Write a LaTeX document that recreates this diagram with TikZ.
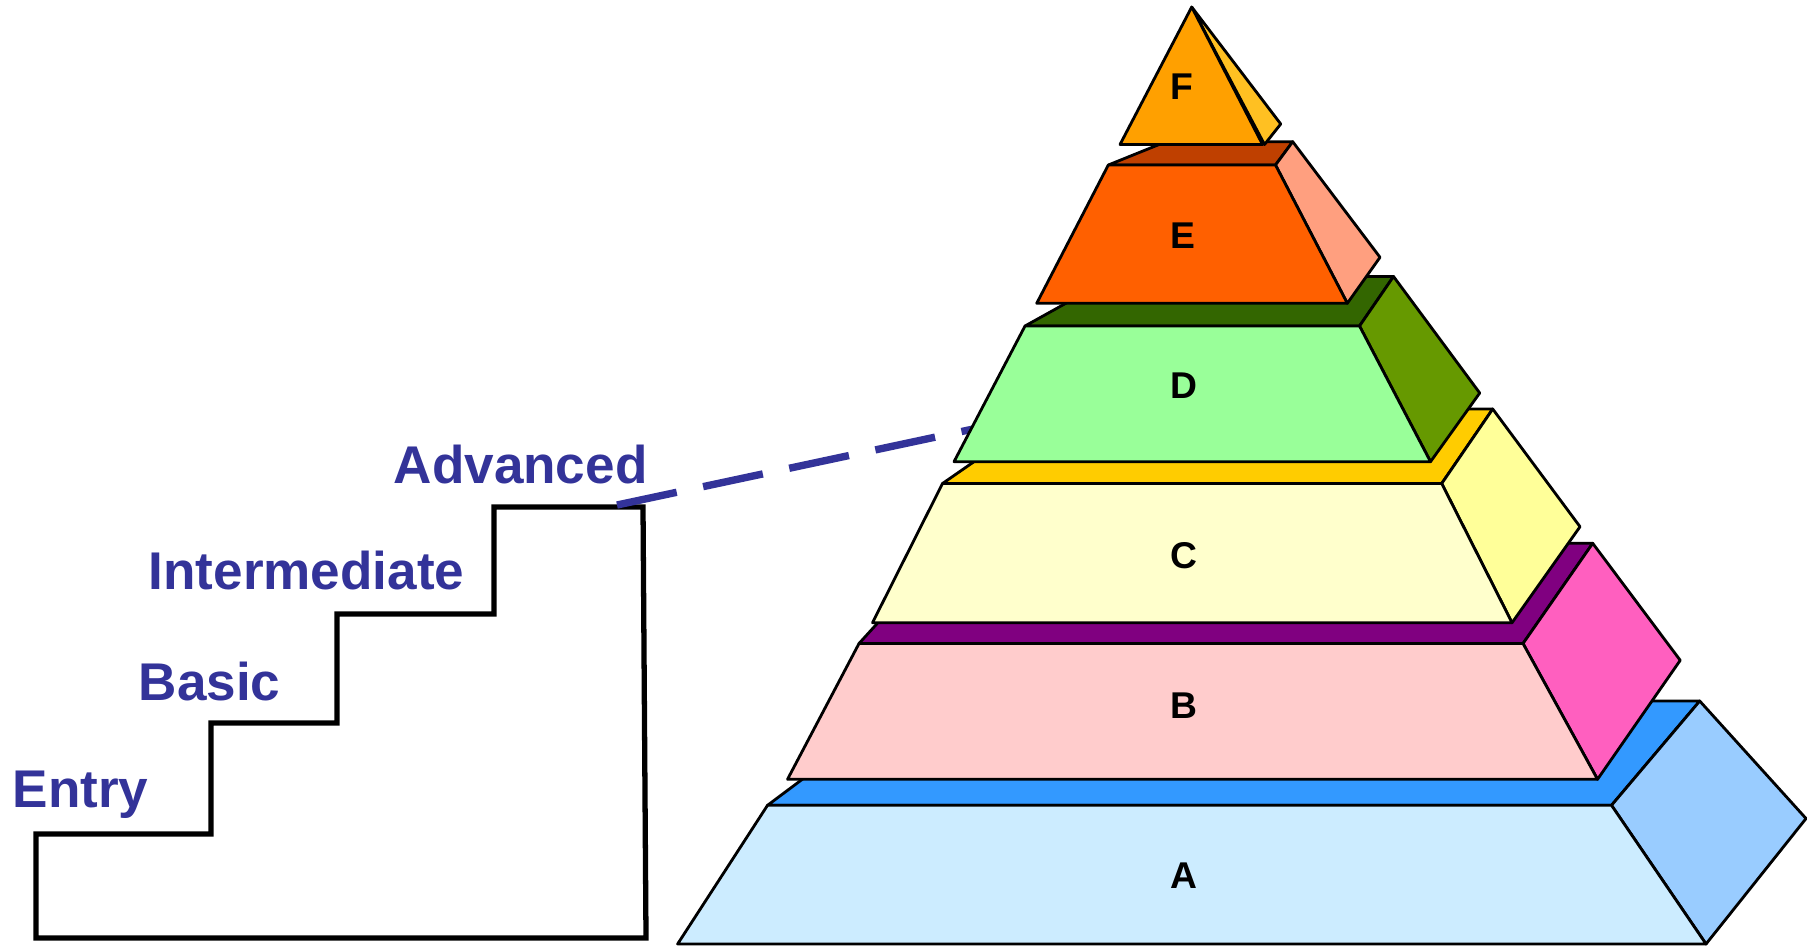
\documentclass[tikz,border=0pt]{standalone}
\usepackage{fontspec}
\setmainfont{Liberation Sans}
\usepackage{xcolor}
\definecolor{stairblue}{HTML}{333399}
\definecolor{afront}{HTML}{CCECFF}
\definecolor{atop}{HTML}{3399FF}
\definecolor{aside}{HTML}{99CCFF}
\definecolor{bfront}{HTML}{FFCCCC}
\definecolor{btop}{HTML}{800080}
\definecolor{bside}{HTML}{FF5FBF}
\definecolor{cfront}{HTML}{FFFFCC}
\definecolor{ctop}{HTML}{FFCC00}
\definecolor{cside}{HTML}{FFFF99}
\definecolor{dfront}{HTML}{99FF99}
\definecolor{dtop}{HTML}{336600}
\definecolor{dside}{HTML}{669900}
\definecolor{efront}{HTML}{FF6000}
\definecolor{etop}{HTML}{BF4000}
\definecolor{eside}{HTML}{FF9F7F}
\definecolor{ffront}{HTML}{FFA000}
\definecolor{fside}{HTML}{FFC022}

\begin{document}
\begin{tikzpicture}[x=0.01cm,y=-0.01cm,
  face/.style={draw=black,line width=0.8pt,line join=round},
  stair/.style={draw=black,line width=1.5pt},
  level/.style={font=\fontsize{15.1pt}{18pt}\selectfont\bfseries,text=stairblue,
    anchor=base west,inner sep=0pt},
  tag/.style={font=\fontsize{10.6pt}{12pt}\selectfont\bfseries,inner sep=0pt},
  link/.style={draw=stairblue,line width=2.1pt,dash pattern=on 0.61cm off 0.27cm}]
 \useasboundingbox (0,0) rectangle (1807,945);

 % staircase
 \draw[stair] (36,938) -- (36,834) -- (211,834) -- (211,723) -- (337,723)
   -- (337,614) -- (494,614) -- (494,507) -- (643,507) -- (646,938) -- cycle;
 \node[level] (entry) at (12,807) {Entry};
 \node[level] (basic) at (138,700) {Basic};
 \node[level] (inter) at (148,589) {Intermediate};
 \node[level] (adv) at (393,483) {Advanced};

 \coordinate (stairtop) at (617,505);
 \coordinate (dedge) at (978,428);
 \draw[link] (stairtop) -- (dedge);

 % pyramid, bottom layer first
 \filldraw[face,fill=atop] (767.5,805.3) -- (907,701) -- (1699.7,701) -- (1611.5,805.3) -- cycle;
 \filldraw[face,fill=aside] (1611.5,805.3) -- (1699.7,701) -- (1806,818.5) -- (1706,944) -- cycle;
 \filldraw[face,fill=afront] (767.5,805.3) -- (1611.5,805.3) -- (1706,944) -- (677.6,944) -- cycle;

 \filldraw[face,fill=btop] (859,643.5) -- (950,543.3) -- (1592.7,543.3) -- (1523,643.5) -- cycle;
 \filldraw[face,fill=bside] (1523,643.5) -- (1592.7,543.3) -- (1680.2,660.3) -- (1597.5,779.3) -- cycle;
 \filldraw[face,fill=bfront] (859,643.5) -- (1523,643.5) -- (1597.5,779.3) -- (787.5,779.3) -- cycle;

 \filldraw[face,fill=ctop] (942.5,483.5) -- (1050,409) -- (1492.7,409) -- (1441.7,483.5) -- cycle;
 \filldraw[face,fill=cside] (1441.7,483.5) -- (1492.7,409) -- (1580,526.7) -- (1512,622.7) -- cycle;
 \filldraw[face,fill=cfront] (942.5,483.5) -- (1441.7,483.5) -- (1512,622.7) -- (872.5,622.7) -- cycle;

 \filldraw[face,fill=dtop] (1025,326) -- (1114,276.5) -- (1393.5,276.5) -- (1359.5,326) -- cycle;
 \filldraw[face,fill=dside] (1359.5,326) -- (1393.5,276.5) -- (1479.7,393) -- (1430.5,461.7) -- cycle;
 \filldraw[face,fill=dfront] (1025,326) -- (1359.5,326) -- (1430.5,461.7) -- (954,461.7) -- cycle;

 \filldraw[face,fill=etop] (1108.3,165) -- (1166,141.7) -- (1292.7,141.7) -- (1275.5,165) -- cycle;
 \filldraw[face,fill=eside] (1275.5,165) -- (1292.7,141.7) -- (1380,257.3) -- (1347.3,303.3) -- cycle;
 \filldraw[face,fill=efront] (1108.3,165) -- (1275.5,165) -- (1347.3,303.3) -- (1036.7,303.3) -- cycle;

 \filldraw[face,fill=fside] (1191.7,7) -- (1280.7,124) -- (1264.5,144.5) -- cycle;
 \filldraw[face,fill=ffront] (1191.7,7) -- (1262.5,144.5) -- (1120,144.5) -- cycle;

 \node[tag] (laba) at (1183.5,876) {A};
 \node[tag] (labb) at (1183.5,706) {B};
 \node[tag] (labc) at (1183.5,556) {C};
 \node[tag] (labd) at (1184,386) {D};
 \node[tag] (labe) at (1183,236) {E};
 \node[tag] (labf) at (1182,87) {F};
\end{tikzpicture}
\end{document}
